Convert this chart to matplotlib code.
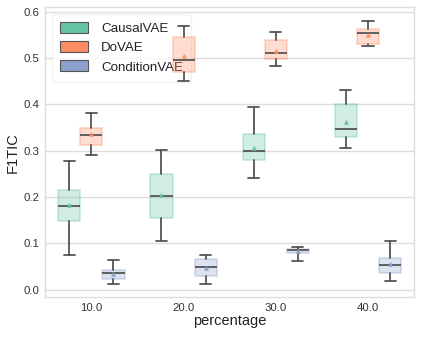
import matplotlib
matplotlib.use("Agg")
import matplotlib.pyplot as plt
from matplotlib.patches import Patch
import matplotlib.colors as mcolors

percentages = [10.0, 20.0, 30.0, 40.0]
models = ["CausalVAE", "DoVAE", "ConditionVAE"]
colors = ["#66c2a5", "#fc8d62", "#8da0cb"]

# per model: lists over percentages
whislo = {
    "CausalVAE": [0.075, 0.106, 0.241, 0.306],
    "DoVAE": [0.290, 0.450, 0.483, 0.526],
    "ConditionVAE": [0.012, 0.012, 0.063, 0.018],
}
q1 = {
    "CausalVAE": [0.149, 0.155, 0.280, 0.330],
    "DoVAE": [0.313, 0.470, 0.497, 0.531],
    "ConditionVAE": [0.024, 0.029, 0.079, 0.037],
}
med = {
    "CausalVAE": [0.180, 0.203, 0.300, 0.346],
    "DoVAE": [0.333, 0.496, 0.510, 0.553],
    "ConditionVAE": [0.036, 0.050, 0.085, 0.054],
}
q3 = {
    "CausalVAE": [0.216, 0.250, 0.336, 0.401],
    "DoVAE": [0.348, 0.545, 0.538, 0.562],
    "ConditionVAE": [0.043, 0.066, 0.089, 0.069],
}
whishi = {
    "CausalVAE": [0.278, 0.302, 0.395, 0.430],
    "DoVAE": [0.382, 0.570, 0.555, 0.580],
    "ConditionVAE": [0.065, 0.076, 0.092, 0.106],
}
mean = {
    "CausalVAE": [0.183, 0.205, 0.306, 0.361],
    "DoVAE": [0.335, 0.504, 0.515, 0.550],
    "ConditionVAE": [0.035, 0.046, 0.083, 0.056],
}

plt.style.use("seaborn-v0_8-whitegrid")
plt.rcParams["font.family"] = ["Liberation Sans", "DejaVu Sans"]
fig = plt.figure(figsize=(4.23, 3.38), dpi=100)
ax = fig.add_axes([0.107, 0.121, 0.872, 0.857])

box_w = 0.24
offsets = [-0.24, 0.0, 0.24]
line_col = "#555555"
for m, off, c in zip(models, offsets, colors):
    stats = []
    for i in range(len(percentages)):
        stats.append(dict(whislo=whislo[m][i], q1=q1[m][i], med=med[m][i],
                          q3=q3[m][i], whishi=whishi[m][i], mean=mean[m][i],
                          fliers=[]))
    pos = [i + off for i in range(len(percentages))]
    fc = mcolors.to_rgba(c, 0.3)
    ec = mcolors.to_rgba(c, 0.35)
    ax.bxp(stats, positions=pos, widths=box_w, patch_artist=True,
           showmeans=True, showfliers=False, manage_ticks=False,
           boxprops=dict(facecolor=fc, edgecolor=ec, linewidth=1.2),
           medianprops=dict(color=line_col, linewidth=1.3),
           whiskerprops=dict(color=line_col, linewidth=1.3),
           capprops=dict(color=line_col, linewidth=1.3),
           meanprops=dict(marker="^", markerfacecolor=c, markeredgecolor=c,
                          markersize=2.5, alpha=0.8),
           capwidths=box_w * 0.5)

ax.set_xlim(-0.5, 3.5)
ax.set_ylim(-0.0157, 0.609)
ax.set_xticks(range(len(percentages)))
ax.set_xticklabels([f"{p:.1f}" for p in percentages])
ax.set_yticks([0.0, 0.1, 0.2, 0.3, 0.4, 0.5, 0.6])
ax.set_yticklabels(["0.0", "0.1", "0.2", "0.3", "0.4", "0.5", "0.6"])
ax.tick_params(axis="both", labelsize=8.2, colors="#333333", pad=4)
ax.grid(axis="x", visible=False)
ax.grid(axis="y", color="#dddddd", linewidth=1.0)
for s in ax.spines.values():
    s.set_visible(True)
    s.set_color("#dddddd")
    s.set_linewidth(1.0)
ax.set_xlabel("percentage", fontsize=10.5, labelpad=1, color="#222222")
ax.set_ylabel("F1TIC", fontsize=10.5, labelpad=3, color="#222222")

handles = [Patch(facecolor=c, edgecolor="#555555", linewidth=0.8, label=m)
           for m, c in zip(models, colors)]
leg = ax.legend(handles=handles, loc="upper left", fontsize=9.6, frameon=True,
                framealpha=0.8, handlelength=2.1, handleheight=0.9,
                handletextpad=1.0, borderpad=0.6, labelspacing=0.45)
leg.get_frame().set_edgecolor("#eeeeee")
leg.set_zorder(1)
for t in leg.get_texts():
    t.set_color("#222222")

fig.savefig("out.png", dpi=100)
